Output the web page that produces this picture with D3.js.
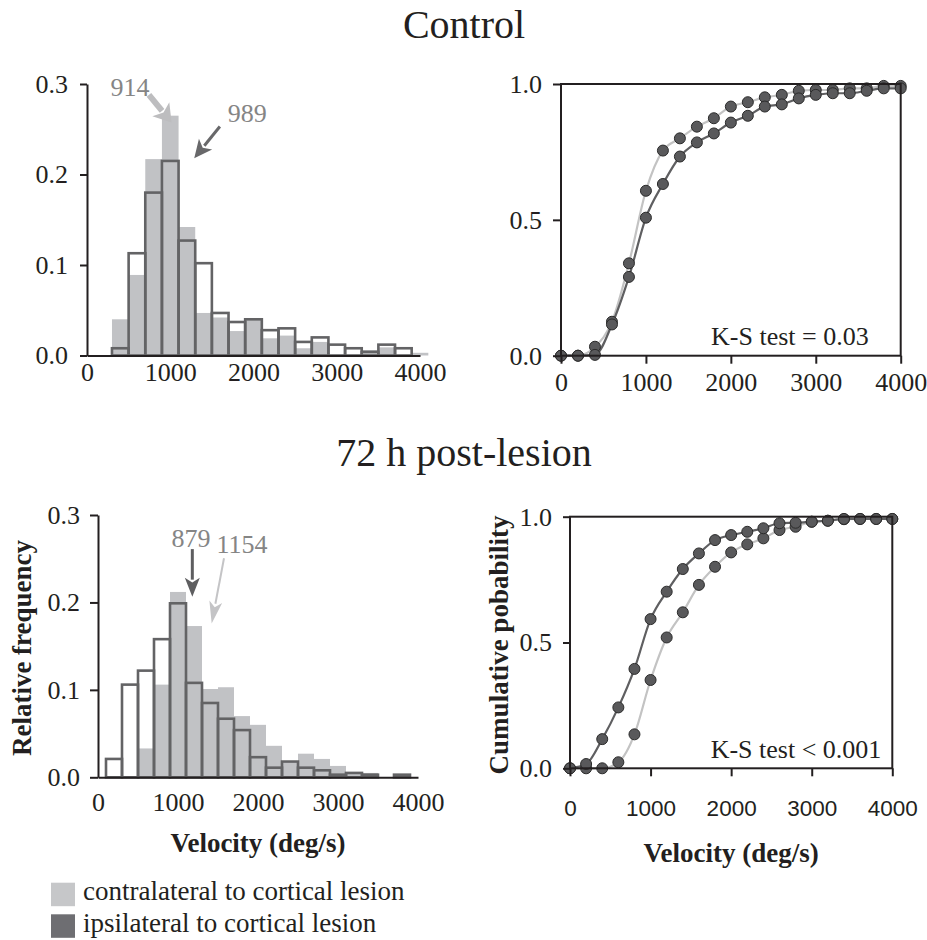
<!DOCTYPE html>
<html>
<head>
<meta charset="utf-8">
<script src="https://cdn.jsdelivr.net/npm/d3@7"></script>
<style>
  body { margin: 0; background: #fff; }
  svg text { font-family: "Liberation Serif", "Times New Roman", serif; fill: #231f20; }
  .axis path, .axis line { stroke: #231f20; stroke-width: 2; fill: none; }
  .axis text { font-size: 26px; fill: #231f20; }
  .axis.sans text { font-family: "Liberation Sans", Arial, sans-serif; font-size: 22.5px; }
  .axis-title { font-size: 27px; font-weight: bold; }
  .panel-title { font-size: 40px; }
  .note { font-size: 26px; fill: #858585; }
  .ks { font-size: 26px; }
  .legend-text { font-size: 27px; }
</style>
</head>
<body>
<svg id="chart" width="927" height="940"></svg>
<script>
// bin left edges (deg/s), every bin is 200 deg/s wide
const controlBins = [300, 500, 700, 900, 1100, 1300, 1500, 1700, 1900, 2100, 2300, 2500, 2700, 2900, 3100, 3300, 3500, 3700, 3900];
const controlContra = [0.040, 0.089, 0.217, 0.265, 0.142, 0.047, 0.042, 0.027, 0.040, 0.019, 0.022, 0.008, 0.015, 0, 0, 0.006, 0.009, 0, 0.003];
const controlIpsi   = [0.008, 0.113, 0.180, 0.215, 0.127, 0.102, 0.047, 0.037, 0.040, 0.028, 0.030, 0.015, 0.020, 0.012, 0.008, 0.004, 0.012, 0.008, 0];

const lesionBins = [100, 300, 500, 700, 900, 1100, 1300, 1500, 1700, 1900, 2100, 2300, 2500, 2700, 2900, 3100, 3300, 3500, 3700];
const lesionContra = [0, 0, 0.033, 0.106, 0.212, 0.173, 0.101, 0.103, 0.070, 0.060, 0.036, 0.017, 0.027, 0.021, 0.013, 0.006, 0.005, 0, 0.003];
const lesionIpsi   = [0.021, 0.106, 0.122, 0.158, 0.199, 0.108, 0.085, 0.067, 0.054, 0.023, 0.011, 0.018, 0.011, 0.008, 0.003, 0.005, 0.003, 0, 0.003];

// cumulative curves
const cdfVelocity = [0, 200, 400, 600, 800, 1000, 1200, 1400, 1600, 1800, 2000, 2200, 2400, 2600, 2800, 3000, 3200, 3400, 3600, 3800, 4000];
const controlContraCdf = [0, 0, 0.033, 0.125, 0.34, 0.607, 0.755, 0.80, 0.843, 0.874, 0.917, 0.933, 0.951, 0.96, 0.975, 0.978, 0.978, 0.984, 0.984, 0.993, 0.993];
const controlIpsiCdf   = [0, 0, 0.003, 0.115, 0.29, 0.508, 0.632, 0.733, 0.785, 0.818, 0.858, 0.883, 0.917, 0.925, 0.947, 0.96, 0.966, 0.966, 0.975, 0.984, 0.984];
const lesionContraCdf  = [0, 0, 0, 0.024, 0.135, 0.351, 0.52, 0.62, 0.729, 0.801, 0.858, 0.89, 0.914, 0.947, 0.96, 0.98, 0.984, 0.99, 0.991, 0.991, 0.991];
const lesionIpsiCdf    = [0, 0.017, 0.116, 0.242, 0.395, 0.593, 0.702, 0.792, 0.854, 0.907, 0.927, 0.94, 0.954, 0.974, 0.976, 0.98, 0.984, 0.991, 0.991, 0.991, 0.991];

const velocityTicks = [0, 1000, 2000, 3000, 4000];
const freqTicks = [0, 0.1, 0.2, 0.3];
const probTicks = [0, 0.5, 1];

const controlMedians = ['914', '989'];
const lesionMedians = ['879', '1154'];
const legendLabels = ['contralateral to cortical lesion', 'ipsilateral to cortical lesion'];

const contraColor = '#c1c2c5';
const ipsiColor = '#636365';
const binWidth = 200;

// draws a straight arrow with a filled head, coordinates in pixels
function drawArrow(g, x1, y1, x2, y2, color, shaft, headLen, headWidth) {
  const len = Math.hypot(x2 - x1, y2 - y1);
  const ux = (x2 - x1) / len, uy = (y2 - y1) / len;
  const bx = x2 - ux * headLen, by = y2 - uy * headLen;
  g.append('line')
      .attr('x1', x1).attr('y1', y1)
      .attr('x2', bx + ux * 2).attr('y2', by + uy * 2)
      .attr('stroke', color)
      .attr('stroke-width', shaft);
  g.append('polygon')
      .attr('points', [
        [x2, y2],
        [bx - uy * headWidth / 2, by + ux * headWidth / 2],
        [bx + ux * headLen * 0.25, by + uy * headLen * 0.25],
        [bx + uy * headWidth / 2, by - ux * headWidth / 2]
      ].map(p => p.join(',')).join(' '))
      .attr('fill', color);
}

class VelocityHistogram {

  constructor(_config) {
    this.config = {
      parentElement: _config.parentElement,
      left: _config.left,
      right: _config.right,
      top: _config.top,
      bottom: _config.bottom,
      bins: _config.bins,
      contra: _config.contra,
      ipsi: _config.ipsi,
      yPadding: _config.yPadding || 12,
      yTickSize: _config.yTickSize || 7,
      xPadding: _config.xPadding || 7,
      notes: _config.notes || [],
      arrows: _config.arrows || [],
      yTitle: _config.yTitle,
      xTitle: _config.xTitle
    };
    this.initVis();
  }

  initVis() {
    let vis = this;

    vis.xScale = d3.scaleLinear()
        .domain([0, 4000])
        .range([vis.config.left, vis.config.right]);

    vis.yScale = d3.scaleLinear()
        .domain([0, 0.3])
        .range([vis.config.bottom, vis.config.top]);

    vis.yAxis = d3.axisLeft(vis.yScale)
        .tickValues(freqTicks)
        .tickSize(vis.config.yTickSize)
        .tickSizeOuter(0)
        .tickPadding(vis.config.yPadding)
        .tickFormat(d3.format('.1f'));

    vis.xAxis = d3.axisBottom(vis.xScale)
        .tickValues(velocityTicks)
        .tickSize(0)
        .tickSizeOuter(0)
        .tickPadding(vis.config.xPadding)
        .tickFormat(d3.format('d'));

    vis.chart = d3.select(vis.config.parentElement).append('g');
    vis.renderVis();
  }

  renderVis() {
    let vis = this;
    const bins = vis.config.bins;

    // contralateral: filled grey bars
    vis.chart.selectAll('.contra')
        .data(bins.map((b, i) => ({ start: b, value: vis.config.contra[i] })).filter(d => d.value > 0))
      .join('rect')
        .attr('class', 'contra')
        .attr('x', d => vis.xScale(d.start))
        .attr('width', d => vis.xScale(d.start + binWidth) - vis.xScale(d.start))
        .attr('y', d => vis.yScale(d.value))
        .attr('height', d => vis.yScale(0) - vis.yScale(d.value))
        .attr('fill', contraColor);

    // ipsilateral: open outlined bars on top
    vis.chart.selectAll('.ipsi')
        .data(bins.map((b, i) => ({ start: b, value: vis.config.ipsi[i] })).filter(d => d.value > 0))
      .join('rect')
        .attr('class', 'ipsi')
        .attr('x', d => vis.xScale(d.start))
        .attr('width', d => vis.xScale(d.start + binWidth) - vis.xScale(d.start))
        .attr('y', d => vis.yScale(d.value))
        .attr('height', d => vis.yScale(0) - vis.yScale(d.value))
        .attr('fill', 'none')
        .attr('stroke', ipsiColor)
        .attr('stroke-width', 2.6);

    vis.chart.append('g')
        .attr('class', 'axis')
        .attr('transform', `translate(0,${vis.config.bottom})`)
        .call(vis.xAxis);

    vis.chart.append('g')
        .attr('class', 'axis')
        .attr('transform', `translate(${vis.config.left},0)`)
        .call(vis.yAxis);

    // median arrows
    vis.config.arrows.forEach(a => {
      drawArrow(vis.chart,
        vis.xScale(a.from[0]), vis.yScale(a.from[1]),
        vis.xScale(a.to[0]), vis.yScale(a.to[1]),
        a.color, a.shaft, a.headLen, a.headWidth);
    });

    vis.chart.selectAll('.note')
        .data(vis.config.notes)
      .join('text')
        .attr('class', 'note')
        .attr('x', d => vis.xScale(d.at[0]))
        .attr('y', d => vis.yScale(d.at[1]))
        .attr('text-anchor', 'middle')
        .text(d => d.text);

    if (vis.config.yTitle) {
      vis.chart.append('text')
          .attr('class', 'axis-title')
          .attr('transform', `translate(${vis.config.yTitle.x},${vis.config.yTitle.y}) rotate(-90)`)
          .attr('text-anchor', 'middle')
          .text(vis.config.yTitle.text);
    }
    if (vis.config.xTitle) {
      vis.chart.append('text')
          .attr('class', 'axis-title')
          .attr('x', (vis.config.left + vis.config.right) / 2)
          .attr('y', vis.config.xTitle.y)
          .attr('text-anchor', 'middle')
          .text(vis.config.xTitle.text);
    }
  }
}

class CumulativePlot {

  constructor(_config) {
    this.config = {
      parentElement: _config.parentElement,
      left: _config.left,
      right: _config.right,
      top: _config.top,
      bottom: _config.bottom,
      contra: _config.contra,
      ipsi: _config.ipsi,
      yTickSize: _config.yTickSize || 8,
      yPadding: _config.yPadding || 11,
      xPadding: _config.xPadding || 9,
      sansTicks: _config.sansTicks || false,
      ks: _config.ks,
      yTitle: _config.yTitle,
      xTitle: _config.xTitle
    };
    this.initVis();
  }

  initVis() {
    let vis = this;

    vis.xScale = d3.scaleLinear()
        .domain([0, 4000])
        .range([vis.config.left, vis.config.right]);

    vis.yScale = d3.scaleLinear()
        .domain([0, 1])
        .range([vis.config.bottom, vis.config.top]);

    vis.yAxis = d3.axisLeft(vis.yScale)
        .tickValues(probTicks)
        .tickSize(vis.config.yTickSize)
        .tickSizeOuter(0)
        .tickPadding(vis.config.yPadding)
        .tickFormat(d3.format('.1f'));

    vis.xAxis = d3.axisBottom(vis.xScale)
        .tickValues(velocityTicks)
        .tickSize(8)
        .tickSizeOuter(0)
        .tickPadding(vis.config.xPadding)
        .tickFormat(d3.format('d'));

    vis.line = d3.line()
        .x((d, i) => vis.xScale(cdfVelocity[i]))
        .y(d => vis.yScale(d))
        .curve(d3.curveMonotoneX);

    vis.chart = d3.select(vis.config.parentElement).append('g');
    vis.renderVis();
  }

  renderVis() {
    let vis = this;

    vis.chart.append('path')
        .attr('d', vis.line(vis.config.contra))
        .attr('fill', 'none')
        .attr('stroke', '#c3c3c3')
        .attr('stroke-width', 2.2);

    vis.chart.append('path')
        .attr('d', vis.line(vis.config.ipsi))
        .attr('fill', 'none')
        .attr('stroke', '#5f5f61')
        .attr('stroke-width', 2.2);

    const points = [];
    vis.config.contra.forEach((v, i) => points.push({ x: cdfVelocity[i], y: v }));
    vis.config.ipsi.forEach((v, i) => points.push({ x: cdfVelocity[i], y: v }));

    vis.chart.selectAll('.point')
        .data(points)
      .join('circle')
        .attr('class', 'point')
        .attr('cx', d => vis.xScale(d.x))
        .attr('cy', d => vis.yScale(d.y))
        .attr('r', 5.5)
        .attr('fill', '#59595b')
        .attr('stroke', '#2b2b2b')
        .attr('stroke-width', 1);

    // frame
    vis.chart.append('rect')
        .attr('x', vis.config.left)
        .attr('y', vis.config.top)
        .attr('width', vis.config.right - vis.config.left)
        .attr('height', vis.config.bottom - vis.config.top)
        .attr('fill', 'none')
        .attr('stroke', '#231f20')
        .attr('stroke-width', 2);

    vis.chart.append('g')
        .attr('class', vis.config.sansTicks ? 'axis sans' : 'axis')
        .attr('transform', `translate(0,${vis.config.bottom})`)
        .call(vis.xAxis)
        .call(g => g.select('.domain').remove());

    vis.chart.append('g')
        .attr('class', 'axis')
        .attr('transform', `translate(${vis.config.left},0)`)
        .call(vis.yAxis)
        .call(g => g.select('.domain').remove());

    vis.chart.append('text')
        .attr('class', 'ks')
        .attr('x', vis.config.right - vis.config.ks.dx)
        .attr('y', vis.config.bottom - vis.config.ks.dy)
        .attr('text-anchor', 'end')
        .text(vis.config.ks.text);

    if (vis.config.yTitle) {
      vis.chart.append('text')
          .attr('class', 'axis-title')
          .attr('transform', `translate(${vis.config.yTitle.x},${vis.config.yTitle.y}) rotate(-90)`)
          .attr('text-anchor', 'middle')
          .text(vis.config.yTitle.text);
    }
    if (vis.config.xTitle) {
      vis.chart.append('text')
          .attr('class', 'axis-title')
          .attr('x', (vis.config.left + vis.config.right) / 2)
          .attr('y', vis.config.xTitle.y)
          .attr('text-anchor', 'middle')
          .text(vis.config.xTitle.text);
    }
  }
}

const svg = d3.select('#chart');

svg.append('text')
    .attr('class', 'panel-title')
    .attr('x', 464).attr('y', 38)
    .attr('text-anchor', 'middle')
    .text('Control');

svg.append('text')
    .attr('class', 'panel-title')
    .attr('x', 464).attr('y', 466)
    .attr('text-anchor', 'middle')
    .text('72 h post-lesion');

new VelocityHistogram({
  parentElement: '#chart',
  left: 87, right: 420, top: 84, bottom: 355.5,
  bins: controlBins, contra: controlContra, ipsi: controlIpsi,
  yTickSize: 7, yPadding: 12, xPadding: 7,
  notes: [
    { text: controlMedians[0], at: [516, 0.287] },
    { text: controlMedians[1], at: [1926, 0.258] }
  ],
  arrows: [
    { from: [744, 0.288], to: [1016, 0.2575], color: '#bdbdbf', shaft: 6, headLen: 17, headWidth: 22 },
    { from: [1596, 0.253], to: [1288, 0.218], color: '#68686a', shaft: 3, headLen: 18, headWidth: 17 }
  ]
});

new CumulativePlot({
  parentElement: '#chart',
  left: 561, right: 900.7, top: 84, bottom: 355.7,
  contra: controlContraCdf, ipsi: controlIpsiCdf,
  yTickSize: 8, yPadding: 11, xPadding: 9,
  ks: { text: 'K-S test = 0.03', dx: 32, dy: 11 }
});

new VelocityHistogram({
  parentElement: '#chart',
  left: 98, right: 418, top: 515, bottom: 777.3,
  bins: lesionBins, contra: lesionContra, ipsi: lesionIpsi,
  yTickSize: 8, yPadding: 10, xPadding: 15,
  notes: [
    { text: lesionMedians[0], at: [1162, 0.2637] },
    { text: lesionMedians[1], at: [1800, 0.2562] }
  ],
  arrows: [
    { from: [1179, 0.261], to: [1179, 0.2066], color: '#5e5e60', shaft: 3, headLen: 19, headWidth: 15 },
    { from: [1575, 0.2505], to: [1421, 0.176], color: '#c4c4c6', shaft: 2, headLen: 22, headWidth: 13 }
  ],
  yTitle: { text: 'Relative frequency', x: 31, y: 648 },
  xTitle: { text: 'Velocity (deg/s)', y: 852 }
});

new CumulativePlot({
  parentElement: '#chart',
  left: 570, right: 892.3, top: 516.7, bottom: 768.3,
  contra: lesionContraCdf, ipsi: lesionIpsiCdf,
  yTickSize: 7, yPadding: 11, xPadding: 24, sansTicks: true,
  ks: { text: 'K-S test < 0.001', dx: 11, dy: 10 },
  yTitle: { text: 'Cumulative pobability', x: 508, y: 645 },
  xTitle: { text: 'Velocity (deg/s)', y: 862 }
});

// legend
const legend = svg.append('g');
legend.selectAll('rect')
    .data(legendLabels)
  .join('rect')
    .attr('x', 51)
    .attr('y', (d, i) => 882.7 + i * 31.6)
    .attr('width', 24)
    .attr('height', 23.5)
    .attr('fill', (d, i) => i === 0 ? '#c6c7c9' : '#6e6e72');

legend.selectAll('text')
    .data(legendLabels)
  .join('text')
    .attr('class', 'legend-text')
    .attr('x', 83)
    .attr('y', (d, i) => 900 + i * 31.6)
    .text(d => d);
</script>
</body>
</html>
